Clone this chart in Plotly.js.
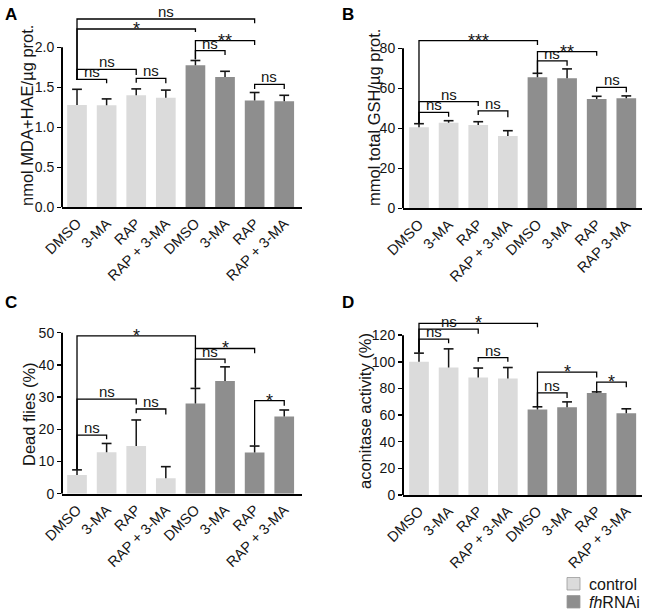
<!DOCTYPE html>
<html><head><meta charset="utf-8">
<script src="https://cdn.plot.ly/plotly-3.0.1.min.js"></script>
<style>html,body{margin:0;padding:0;background:#fff}#chart{width:645px;height:613px}</style>
</head><body><div id="chart"></div>
<script>
// ---------- data ----------
const tickLabelsACD = ['DMSO','3-MA','RAP','RAP + 3-MA','DMSO','3-MA','RAP','RAP + 3-MA'];
const tickLabelsB   = ['DMSO','3-MA','RAP','RAP + 3-MA','DMSO','3-MA','RAP','RAP 3-MA'];
const barIndex = [0,1,2,3,4,5,6,7];
const controlIdx = [0,1,2,3];
const fhIdx = [4,5,6,7];

// A: nmol MDA+HAE/ug prot.
const mdaValues = [1.28,1.275,1.40,1.37,1.775,1.63,1.335,1.325];
const mdaErrors = [0.195,0.08,0.08,0.095,0.06,0.07,0.10,0.075];
// B: mmol total GSH/ug prot.
const gshValues = [40.5,42.8,41.7,36.2,65.5,65.0,54.7,55.0];
const gshErrors = [1.8,1.0,1.6,2.6,2.0,4.7,1.3,1.2];
// C: Dead flies (%)
const deadValues = [5.8,12.9,14.8,4.8,28.0,35.0,12.8,24.0];
const deadErrors = [1.6,2.7,8.1,3.6,4.7,4.4,2.0,2.0];
// D: aconitase activity (%)
const aconValues = [100,95.7,88.3,87.5,64.2,65.9,76.6,61.4];
const aconErrors = [6.5,14.0,7.0,8.2,2.0,4.0,0.8,3.3];

// significance comparisons: [barFrom, barTo, level, leftLegBottom, rightLegBottom, label]
const mdaComparisons = [
  [0,6,2.354,1.59,2.30,'ns'],
  [0,4,2.229,1.59,2.19,'*'],
  [4,6,2.083,1.85,2.03,'**'],
  [4,5,1.958,1.85,1.904,'ns'],
  [0,2,1.725,1.59,1.654,'ns'],
  [0,1,1.60,1.59,1.55,'ns'],
  [2,3,1.6125,1.558,1.55,'ns'],
  [6,7,1.5375,1.48,1.48,'ns']
];
const gshComparisons = [
  [0,4,83.8,42.5,81.7,'***'],
  [4,6,78.3,67.7,76.3,'**'],
  [4,5,73.7,67.7,71.3,'ns'],
  [0,2,53.3,42.5,51.2,'ns'],
  [0,1,48.0,42.5,45.8,'ns'],
  [2,3,48.7,46.7,45.5,'ns'],
  [6,7,60.5,58.3,58.0,'ns']
];
const deadComparisons = [
  [0,4,49.0,7.6,45.1,'*'],
  [4,6,45.1,33.0,43.6,'*'],
  [4,5,41.8,33.0,40.5,'ns'],
  [0,2,29.4,7.6,27.7,'ns'],
  [0,1,18.2,7.6,16.9,'ns'],
  [2,3,26.3,25.0,24.6,'ns'],
  [6,7,28.9,15.0,27.3,'*']
];
const aconComparisons = [
  [0,4,128.9,107,126,'*'],
  [0,2,124.6,107,121,'ns'],
  [0,1,117,107,114,'ns'],
  [2,3,103.2,100,100,'ns'],
  [4,6,92.3,66.5,88.3,'*'],
  [4,5,76.6,66.5,72.9,'ns'],
  [6,7,84.8,77.6,80.8,'*']
];

// ---------- styling / layout ----------
const FONT = 'Arial, "Liberation Sans", Helvetica, sans-serif';
const CONTROL_COLOR = '#dbdbdb';
const FH_COLOR = '#8e8e8e';
const INK = '#151515';

const panels = [
  {ax:'', values: mdaValues, errors: mdaErrors, comps: mdaComparisons, ticks: tickLabelsACD,
   title:'nmol MDA+HAE/µg prot.', tx:27, ty:116, xdom:[62/645, 302/645], ydom:[1-207.3/613, 1-15.3/613],
   xr:[-0.507, 7.6], yr:[0, 2.4], tickvals:[0,0.5,1,1.5,2], fmt:'.1f', letter:'A', lx:3, ly:3},
  {ax:'2', values: gshValues, errors: gshErrors, comps: gshComparisons, ticks: tickLabelsB,
   title:'mmol total GSH/µg prot.', tx:374.5, ty:117.5, xdom:[403/645, 642/645], ydom:[1-208.3/613, 1-36.3/613],
   xr:[-0.54, 7.53], yr:[0, 86], tickvals:[0,20,40,60,80], fmt:'', letter:'B', lx:340, ly:3},
  {ax:'3', values: deadValues, errors: deadErrors, comps: deadComparisons, ticks: tickLabelsACD,
   title:'Dead flies (%)', tx:29, ty:414, xdom:[62/645, 302/645], ydom:[1-493.7/613, 1-329.5/613],
   xr:[-0.507, 7.6], yr:[0, 51], tickvals:[0,10,20,30,40,50], fmt:'', letter:'C', lx:3, ly:291},
  {ax:'4', values: aconValues, errors: aconErrors, comps: aconComparisons, ticks: tickLabelsACD,
   title:'aconitase activity (%)', tx:364.5, ty:411.5, xdom:[403/645, 642/645], ydom:[1-495/613, 1-320.5/613],
   xr:[-0.54, 7.53], yr:[0, 131], tickvals:[0,20,40,60,80,100,120], fmt:'', letter:'D', lx:340, ly:291}
];

const traces = [];
const shapes = [];
const annotations = [];
const layout = {
  width: 645, height: 613,
  margin: {l:0, r:0, t:0, b:0},
  paper_bgcolor:'#fff', plot_bgcolor:'rgba(0,0,0,0)',
  showlegend:false,
  font:{family:FONT, color:INK, size:14},
  shapes, annotations
};

panels.forEach(p => {
  const xa = 'x' + p.ax, ya = 'y' + p.ax;
  [[controlIdx, CONTROL_COLOR, 'control'], [fhIdx, FH_COLOR, 'fhRNAi']].forEach(([idx, col, nm]) => {
    traces.push({
      type:'bar', name:nm, xaxis:xa, yaxis:ya,
      x: idx.map(i => barIndex[i]),
      y: idx.map(i => p.values[i]),
      width: 0.665,
      marker:{color:col, line:{width:0}},
      error_y:{type:'data', symmetric:false,
        array: idx.map(i => p.errors[i]),
        arrayminus: idx.map(() => 0),
        color:INK, thickness:1.5, width:0},
      hoverinfo:'skip'
    });
  });
  // error-bar caps (upper end only)
  traces.push({
    type:'scatter', mode:'markers', xaxis:xa, yaxis:ya, showlegend:false,
    x: barIndex, y: barIndex.map(i => p.values[i] + p.errors[i]),
    marker:{symbol:'line-ew', size:7, color:INK, line:{color:INK, width:1.6}},
    cliponaxis:false, hoverinfo:'skip'
  });
  const xkey = 'xaxis' + p.ax, ykey = 'yaxis' + p.ax;
  layout[xkey] = {
    domain:p.xdom, range:p.xr, anchor:ya, fixedrange:true,
    tickmode:'array', tickvals:barIndex, ticktext:p.ticks, tickangle:-45,
    ticks:'', showgrid:false, zeroline:false,
    showline:true, linewidth:2, linecolor:'#000',
    tickfont:{size:14.5, family:FONT, color:INK}
  };
  layout[ykey] = {
    domain:p.ydom, range:p.yr, anchor:xa, fixedrange:true,
    tickmode:'array', tickvals:p.tickvals, tickformat:p.fmt,
    ticks:'outside', ticklen:4, tickwidth:1.5, tickcolor:'#000',
    showgrid:false, zeroline:false, showline:false,
    tickfont:{size:14, family:FONT, color:INK}
  };
  // y-axis title as a rotated annotation centred on the reference position
  annotations.push({xref:'paper', yref:'paper', x:p.tx/645, y:1-p.ty/613,
    xanchor:'center', yanchor:'middle', textangle:-90, text:p.title, showarrow:false,
    font:{size:16.5, family:FONT, color:INK}});
  // y axis line only up to the top tick
  shapes.push({type:'line', xref:xa + ' domain', yref:ya, x0:0, x1:0,
    y0:0, y1:p.tickvals[p.tickvals.length-1], line:{color:'#000', width:2}});
  // comparison brackets
  p.comps.forEach(c => {
    const [i, j, lev, lb, rb, lab] = c;
    shapes.push({type:'path', xref:xa, yref:ya,
      path:`M${barIndex[i]},${lb} L${barIndex[i]},${lev} L${barIndex[j]},${lev} L${barIndex[j]},${rb}`,
      line:{color:'#000', width:1.3}});
    const isNs = lab === 'ns';
    annotations.push({xref:xa, yref:ya, x:(barIndex[i]+barIndex[j])/2, y:lev,
      text:lab, showarrow:false, yanchor:'bottom', xanchor:'center',
      yshift: isNs ? -3 : -12,
      font:{size: isNs ? 15 : 18, family:FONT, color:INK}});
  });
  annotations.push({xref:'paper', yref:'paper', x:p.lx/645, y:1-p.ly/613,
    xanchor:'left', yanchor:'top', text:'<b>'+p.letter+'</b>', showarrow:false,
    font:{size:17, family:FONT, color:'#000'}});
});

// legend (drawn manually)
const legendItems = [['control', CONTROL_COLOR, 577.5], ['<i>fh</i>RNAi', FH_COLOR, 595.5]];
legendItems.forEach(([txt, col, top]) => {
  shapes.push({type:'rect', xref:'paper', yref:'paper',
    x0:567/645, x1:580/645, y0:1-(top+12.5)/613, y1:1-top/613,
    fillcolor:col, line:{color:'#9a9a9a', width:0.8}});
  annotations.push({xref:'paper', yref:'paper', x:587/645, y:1-(top+6.5)/613,
    xanchor:'left', yanchor:'middle', text:txt, showarrow:false,
    font:{size:16, family:FONT, color:INK}});
});

Plotly.newPlot('chart', traces, layout, {staticPlot:true, displayModeBar:false});
</script></body></html>
